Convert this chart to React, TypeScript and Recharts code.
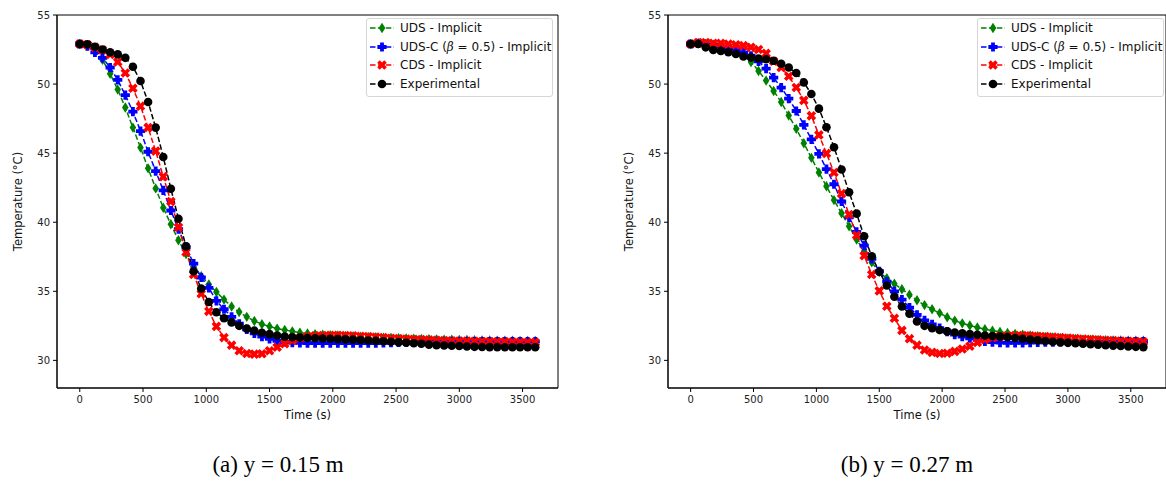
import React from 'react'
import { LineChart, Line, XAxis, YAxis, Legend, ReferenceArea } from 'recharts'

const FONT = '"DejaVu Sans", Verdana, sans-serif'

// time steps (s)
const times = [
  0, 60, 120, 180, 240, 300, 360, 420, 480, 540,
  600, 660, 720, 780, 840, 900, 960, 1020, 1080, 1140,
  1200, 1260, 1320, 1380, 1440, 1500, 1560, 1620, 1680, 1740,
  1800, 1860, 1920, 1980, 2040, 2100, 2160, 2220, 2280, 2340,
  2400, 2460, 2520, 2580, 2640, 2700, 2760, 2820, 2880, 2940,
  3000, 3060, 3120, 3180, 3240, 3300, 3360, 3420, 3480, 3540,
  3600,
]

// (a) y = 0.15 m
const udsA = [
  52.9, 52.8, 52.4, 51.75, 50.75, 49.6, 48.3, 46.85, 45.4, 43.9,
  42.45, 41.05, 39.85, 38.7, 37.7, 36.8, 36.1, 35.5, 34.95, 34.4,
  33.9, 33.5, 33.15, 32.85, 32.62, 32.45, 32.3, 32.2, 32.1, 32.0,
  31.95, 31.9, 31.85, 31.82, 31.8, 31.77, 31.75, 31.72, 31.7, 31.68,
  31.65, 31.63, 31.61, 31.59, 31.57, 31.55, 31.54, 31.52, 31.5, 31.49,
  31.48, 31.47, 31.46, 31.45, 31.44, 31.43, 31.42, 31.42, 31.41, 31.4,
  31.4,
]
const udscA = [
  52.9, 52.75, 52.3, 51.9, 51.2, 50.3, 49.2, 48.0, 46.6, 45.1,
  43.7, 42.3, 40.85, 39.5, 38.2, 37.0, 36.0, 35.25, 34.3, 33.7,
  33.15, 32.65, 32.25, 31.95, 31.72, 31.55, 31.42, 31.33, 31.28, 31.26,
  31.25, 31.25, 31.25, 31.25, 31.25, 31.25, 31.25, 31.25, 31.25, 31.25,
  31.27, 31.28, 31.3, 31.31, 31.32, 31.33, 31.34, 31.34, 31.34, 31.35,
  31.35, 31.35, 31.35, 31.35, 31.35, 31.35, 31.35, 31.35, 31.35, 31.35,
  31.35,
]
const cdsA = [
  52.9, 52.85, 52.66, 52.47, 52.15, 51.6, 50.8, 49.7, 48.4, 46.85,
  45.15, 43.3, 41.5, 39.64, 37.83, 36.22, 34.82, 33.55, 32.46, 31.65,
  31.1, 30.7, 30.5, 30.45, 30.48, 30.7, 30.95, 31.2, 31.45, 31.62,
  31.72, 31.78, 31.8, 31.82, 31.82, 31.8, 31.78, 31.75, 31.72, 31.68,
  31.65, 31.6, 31.57, 31.54, 31.52, 31.5, 31.48, 31.46, 31.44, 31.42,
  31.4, 31.39, 31.38, 31.37, 31.36, 31.35, 31.34, 31.33, 31.32, 31.31,
  31.3,
]
const expA = [
  52.9, 52.88, 52.7, 52.5, 52.3, 52.15, 51.9, 51.25, 50.22, 48.7,
  46.85, 44.72, 42.42, 40.25, 38.25, 36.45, 35.2, 34.22, 33.48, 33.05,
  32.75, 32.5, 32.3, 32.15, 32.0, 31.9, 31.8, 31.72, 31.68, 31.65,
  31.62, 31.6, 31.58, 31.56, 31.54, 31.52, 31.5, 31.47, 31.44, 31.41,
  31.38, 31.35, 31.32, 31.28, 31.24, 31.2, 31.14, 31.1, 31.08, 31.06,
  31.04, 31.0, 30.98, 30.97, 30.96, 30.96, 30.95, 30.95, 30.95, 30.95,
  30.95,
]

// (b) y = 0.27 m
const udsB = [
  52.9, 52.95, 52.9, 52.85, 52.75, 52.65, 52.45, 52.15, 51.6, 50.95,
  50.25, 49.5, 48.7, 47.72, 46.76, 45.72, 44.66, 43.6, 42.6, 41.6,
  40.65, 39.7, 38.75, 37.9, 37.1, 36.4, 35.95, 35.55, 35.15, 34.75,
  34.35, 34.0, 33.7, 33.42, 33.12, 32.88, 32.68, 32.52, 32.38, 32.26,
  32.15, 32.06, 31.98, 31.92, 31.86, 31.8, 31.75, 31.7, 31.66, 31.62,
  31.58, 31.55, 31.52, 31.5, 31.48, 31.46, 31.45, 31.44, 31.43, 31.42,
  31.42,
]
const udscB = [
  52.9, 52.95, 52.88, 52.8, 52.7, 52.6, 52.48, 52.3, 52.05, 51.65,
  51.12, 50.46, 49.75, 48.95, 48.05, 47.05, 46.0, 44.95, 43.85, 42.75,
  41.5, 40.35, 39.3, 38.3, 37.35, 36.45, 35.7, 35.0, 34.4, 33.82,
  33.3, 32.9, 32.6, 32.33, 32.08, 31.87, 31.72, 31.6, 31.48, 31.38,
  31.32, 31.28, 31.26, 31.26, 31.27, 31.28, 31.3, 31.31, 31.32, 31.33,
  31.34, 31.35, 31.35, 31.35, 31.35, 31.35, 31.35, 31.35, 31.35, 31.35,
  31.35,
]
const cdsB = [
  52.9, 53.0, 53.0, 52.95, 52.95, 52.9, 52.85, 52.78, 52.66, 52.5,
  52.22, 51.65, 51.2, 50.57, 49.75, 48.82, 47.7, 46.32, 44.98, 43.6,
  42.07, 40.56, 39.05, 37.58, 36.22, 35.03, 33.92, 33.05, 32.17, 31.57,
  31.1, 30.75, 30.58, 30.5, 30.52, 30.65, 30.82, 31.02, 31.3, 31.52,
  31.65, 31.74, 31.78, 31.8, 31.8, 31.78, 31.75, 31.72, 31.68, 31.65,
  31.62, 31.58, 31.55, 31.52, 31.49, 31.46, 31.43, 31.4, 31.38, 31.36,
  31.34,
]
const expB = [
  52.9, 52.9, 52.66, 52.47, 52.4, 52.3, 52.18, 52.0, 51.92, 51.85,
  51.8, 51.69, 51.47, 51.2, 50.8, 50.12, 49.28, 48.22, 46.88, 45.43,
  43.82, 42.17, 40.62, 38.98, 37.54, 36.42, 35.42, 34.6, 33.9, 33.38,
  32.82, 32.5, 32.33, 32.2, 32.1, 32.02, 31.96, 31.9, 31.85, 31.8,
  31.76, 31.72, 31.68, 31.62, 31.56, 31.5, 31.45, 31.4, 31.35, 31.3,
  31.27, 31.24, 31.2, 31.17, 31.14, 31.1, 31.07, 31.04, 31.0, 30.98,
  30.96,
]

const xTicks = [0, 500, 1000, 1500, 2000, 2500, 3000, 3500]
const yTicks = [30, 35, 40, 45, 50, 55]

const series = [
  { key: 'uds', name: 'UDS - Implicit', color: '#008000', marker: 'diamond' },
  { key: 'udsc', name: 'UDS-C (β = 0.5) - Implicit', color: '#0000ff', marker: 'plus' },
  { key: 'cds', name: 'CDS - Implicit', color: '#ff0000', marker: 'cross' },
  { key: 'exp', name: 'Experimental', color: '#000000', marker: 'circle' },
]

const buildRows = (uds: number[], udsc: number[], cds: number[], exp: number[]) =>
  times.map((t, i) => ({ t, uds: uds[i], udsc: udsc[i], cds: cds[i], exp: exp[i] }))

const plusPts = (cx: number, cy: number, a: number, b: number) =>
  [
    [-a, -b], [-b, -b], [-b, -a], [b, -a], [b, -b], [a, -b],
    [a, b], [b, b], [b, a], [-b, a], [-b, b], [-a, b],
  ].map(([dx, dy]) => `${cx + dx},${cy + dy}`).join(' ')

function Marker({ kind, color, cx, cy }: { kind: string; color: string; cx: number; cy: number }) {
  if (cx == null || cy == null) return null
  if (kind === 'diamond') {
    return <polygon points={`${cx},${cy - 5.2} ${cx + 3.3},${cy} ${cx},${cy + 5.2} ${cx - 3.3},${cy}`} fill={color} />
  }
  if (kind === 'plus') {
    return <polygon points={plusPts(cx, cy, 4.6, 1.9)} fill={color} />
  }
  if (kind === 'cross') {
    return <polygon points={plusPts(cx, cy, 5, 1.8)} fill={color} transform={`rotate(45 ${cx} ${cy})`} />
  }
  return <circle cx={cx} cy={cy} r={4.3} fill={color} />
}

function LegendBox() {
  return (
    <div
      style={{
        width: 187,
        boxSizing: 'border-box',
        border: '1px solid #d6d6d6',
        borderRadius: 3,
        background: 'rgba(255,255,255,0.8)',
        padding: '0 3px 3px 3px',
        fontFamily: FONT,
        fontSize: 12,
        color: '#111',
      }}
    >
      {series.map((s) => (
        <div key={s.key} style={{ display: 'flex', alignItems: 'center', height: 18.5, whiteSpace: 'nowrap' }}>
          <svg width={24} height={12} style={{ flex: 'none' }}>
            <line x1={0} y1={6} x2={24} y2={6} stroke={s.color} strokeWidth={1.5} strokeDasharray="5.5 2.4" />
            <Marker kind={s.marker} color={s.color} cx={12} cy={6} />
          </svg>
          <span style={{ marginLeft: 6 }}>
            {s.key === 'udsc' ? (
              <>UDS-C (<i style={{ fontFamily: '"DejaVu Serif", serif' }}>β</i> = 0.5) - Implicit</>
            ) : (
              s.name
            )}
          </span>
        </div>
      ))}
    </div>
  )
}

function Panel({ rows, width, left, caption }: { rows: any[]; width: number; left: number; caption: string }) {
  const tickStyle = { fontFamily: FONT, fontSize: 10, fill: '#222' }
  return (
    <div style={{ position: 'absolute', left, top: 0 }}>
      <LineChart width={width} height={440} data={rows} margin={{ top: 15, right: left === 0 ? 7 : 0, bottom: 0, left: 0 }}>
        <XAxis
          dataKey="t"
          type="number"
          domain={[-180, 3780]}
          ticks={xTicks}
          interval={0}
          height={52}
          tickSize={4}
          tickMargin={4}
          stroke="#000"
          tick={tickStyle}
          label={(p: any) => (
            <text
              x={p.viewBox.x + p.viewBox.width / 2}
              y={p.viewBox.y + 31}
              textAnchor="middle"
              fontFamily={FONT}
              fontSize={11.5}
              fill="#111"
            >
              Time (s)
            </text>
          )}
        />
        <YAxis
          type="number"
          domain={[28, 55]}
          ticks={yTicks}
          interval={0}
          width={57}
          tickSize={4}
          tickMargin={3}
          stroke="#000"
          tick={tickStyle}
          label={(p: any) => {
            const cx = 18
            const cy = p.viewBox.y + p.viewBox.height / 2
            return (
              <text
                x={cx}
                y={cy}
                transform={`rotate(-90 ${cx} ${cy})`}
                textAnchor="middle"
                dominantBaseline="central"
                fontFamily={FONT}
                fontSize={11.5}
                fill="#111"
              >
                Temperature (°C)
              </text>
            )
          }}
        />
        <ReferenceArea x1={-180} x2={3780} y1={28} y2={55} fill="none" stroke="#000" strokeWidth={1} />
        {series.map((s) => (
          <Line
            key={s.key}
            dataKey={s.key}
            name={s.name}
            type="linear"
            stroke={s.color}
            strokeWidth={1.5}
            strokeDasharray="5.5 2.4"
            isAnimationActive={false}
            activeDot={false}
            dot={(p: any) => (
              <g key={`${s.key}-${p.index}`}>
                <Marker kind={s.marker} color={s.color} cx={p.cx} cy={p.cy} />
              </g>
            )}
          />
        ))}
        <Legend
          layout="horizontal"
          align="center"
          verticalAlign="middle"
          content={() => <LegendBox />}
          wrapperStyle={{ left: 366, top: 18, width: 187, height: 'auto' }}
        />
      </LineChart>
      <div
        style={{
          position: 'absolute',
          top: 452,
          left: 0,
          width: left === 0 ? 556 : 592,
          textAlign: 'center',
          fontFamily: '"Liberation Serif", "Times New Roman", serif',
          fontSize: 23,
          color: '#000',
          whiteSpace: 'nowrap',
        }}
      >
        {caption}
      </div>
    </div>
  )
}

export default function App() {
  const rowsA = buildRows(udsA, udscA, cdsA, expA)
  const rowsB = buildRows(udsB, udscB, cdsB, expB)
  return (
    <div style={{ position: 'absolute', left: 0, top: 0, width: 1166, height: 484, background: '#fff', overflow: 'hidden' }}>
      <Panel rows={rowsA} width={565} left={0} caption="(a) y = 0.15 m" />
      <Panel rows={rowsB} width={555} left={611} caption="(b) y = 0.27 m" />
    </div>
  )
}
